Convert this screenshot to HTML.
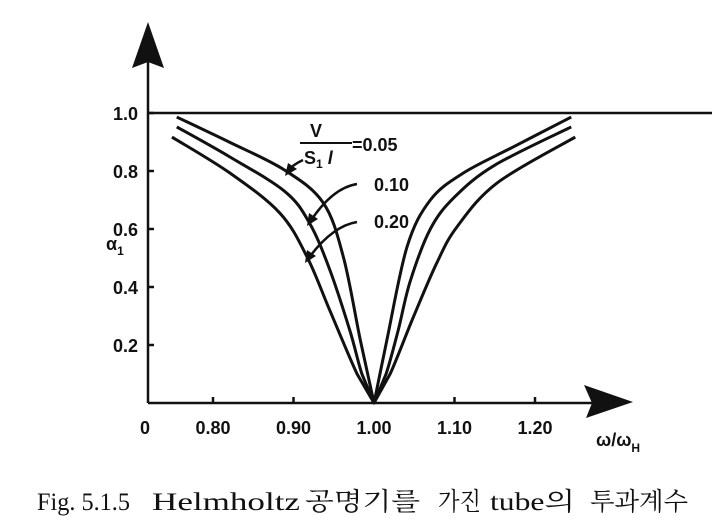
<!DOCTYPE html>
<html><head><meta charset="utf-8"><style>
body{margin:0;background:#fff;width:718px;height:532px;overflow:hidden}
svg{display:block}
.t{font-family:"Liberation Sans",Arial,sans-serif;font-weight:bold;font-size:18px;fill:#111}
.cap{font-family:"Liberation Serif","Noto Serif CJK KR","Noto Serif CJK SC",serif;font-size:25px;fill:#111}
</style></head><body>
<svg id="chart" width="718" height="532" viewBox="0 0 718 532">
<g id="axes"></g>
<g id="curves"></g>
<g id="labels">
<text class="t" x="106" y="250" font-size="21">α<tspan font-size="12" dy="5">1</tspan></text>
<text class="t" x="596" y="446" font-size="20">ω/ω<tspan font-size="12" dy="6">H</tspan></text>
<text class="t" x="310" y="137" font-size="19">V</text>
<line x1="300" y1="143" x2="352" y2="143" stroke="#111" stroke-width="2"/>
<text class="t" x="304" y="164" font-size="19">S<tspan font-size="12" dy="4">1</tspan><tspan dy="-4" font-style="italic"> l</tspan></text>
<text class="t" x="352" y="151" font-size="19">=0.05</text>
<text class="t" x="374" y="191" font-size="19">0.10</text>
<text class="t" x="374" y="228" font-size="19">0.20</text>
<path d="M303,160 Q292,165 287,172" fill="none" stroke="#111" stroke-width="2.5"/>
<path d="M285,176 L288,163 L297,169 Z" fill="#111"/>
<path d="M357,184 Q332,188 310,222" fill="none" stroke="#111" stroke-width="2.5"/>
<path d="M307,226 L309,213 L318,219 Z" fill="#111"/>
<path d="M357,222 Q332,226 308,259" fill="none" stroke="#111" stroke-width="2.5"/>
<path d="M305,263 L307,250 L316,256 Z" fill="#111"/>
<g>
<text class="cap" x="37" y="510" textLength="93" lengthAdjust="spacingAndGlyphs">Fig. 5.1.5</text>
<text class="cap" x="152" y="510" textLength="148" lengthAdjust="spacingAndGlyphs">Helmholtz</text>
<text class="cap" x="305" y="510" textLength="115" lengthAdjust="spacingAndGlyphs">공명기를</text>
<text class="cap" x="438" y="510" textLength="43" lengthAdjust="spacingAndGlyphs">가진</text>
<text class="cap" x="490" y="510" textLength="85" lengthAdjust="spacingAndGlyphs">tube의</text>
<text class="cap" x="590" y="510" textLength="98" lengthAdjust="spacingAndGlyphs">투과계수</text>
</g>
</g>
</svg>
<script>
const xTicks=[0.80,0.90,1.00,1.10,1.20];
const xTickLabels=["0.80","0.90","1.00","1.10","1.20"];
const yTicks=[0.2,0.4,0.6,0.8,1.0];
const yTickLabels=["0.2","0.4","0.6","0.8","1.0"];
const seriesNames=["0.05","0.10","0.20"];
const x005=[0.755,0.82,0.889,0.937,0.962,0.983,1.0,1.016,1.041,1.070,1.111,1.173,1.245];
const y005=[0.986,0.90,0.803,0.69,0.503,0.217,0,0.217,0.538,0.70,0.793,0.883,0.986];
const x010=[0.755,0.82,0.889,0.92,0.945,0.97,0.985,1.0,1.015,1.03,1.045,1.07,1.10,1.15,1.245];
const y010=[0.952,0.85,0.73,0.62,0.46,0.25,0.10,0,0.10,0.25,0.42,0.60,0.71,0.82,0.952];
const x020=[0.749,0.821,0.883,0.917,0.945,0.979,1.0,1.020,1.049,1.078,1.103,1.153,1.250];
const y020=[0.917,0.793,0.655,0.503,0.32,0.10,0,0.10,0.297,0.483,0.607,0.759,0.917];
const NS="http://www.w3.org/2000/svg";
const X=v=>374+(v-1.0)*805;
const Y=v=>403-v*290;
function mk(tag,attrs,parent){const e=document.createElementNS(NS,tag);for(const k in attrs)e.setAttribute(k,attrs[k]);parent.appendChild(e);return e;}
const axes=document.getElementById('axes');
let e;
e=mk('line',{x1:148,y1:403,x2:148,y2:60,stroke:'#111','stroke-width':2.5},axes);


e=mk('path',{d:'M148,22 L132,68 L148,62 L164,68 Z',fill:'#111'},axes);


e=mk('line',{x1:148,y1:403,x2:595,y2:403,stroke:'#111','stroke-width':2.5},axes);


e=mk('path',{d:'M633,402 L584,385 L592,403 L586,418 Z',fill:'#111'},axes);


e=mk('line',{x1:148,y1:Y(1.0),x2:712,y2:Y(1.0),stroke:'#111','stroke-width':2.5},axes);


e=mk('text',{x:140,y:434,class:'t'},axes);e.textContent="0";


xTicks.forEach((v,i)=>{
 const t=mk('line',{x1:X(v),y1:403,x2:X(v),y2:397,stroke:'#111','stroke-width':2.5},axes);
 
 
 const l=mk('text',{x:X(v),y:434,class:'t','text-anchor':'middle'},axes);l.textContent=xTickLabels[i];
 
 
});
yTicks.forEach((v,i)=>{
 const t=mk('line',{x1:148,y1:Y(v),x2:154,y2:Y(v),stroke:'#111','stroke-width':2.5},axes);
 
 
 const l=mk('text',{x:138,y:Y(v)+7,class:'t','text-anchor':'end'},axes);l.textContent=yTickLabels[i];
 
 
});
function smooth(pts){let d='M'+pts[0][0]+','+pts[0][1];for(let i=0;i<pts.length-1;i++){const p0=pts[i-1]||pts[i],p1=pts[i],p2=pts[i+1],p3=pts[i+2]||p2;const k=(p1[1]>400||p2[1]>400)?0:1/6;d+=' C'+(p1[0]+(p2[0]-p0[0])*k)+','+(p1[1]+(p2[1]-p0[1])*k)+' '+(p2[0]-(p3[0]-p1[0])*k)+','+(p2[1]-(p3[1]-p1[1])*k)+' '+p2[0]+','+p2[1];}return d;}
const curves=document.getElementById('curves');
[[x005,y005],[x010,y010],[x020,y020]].forEach((s,i)=>{
 const pts=s[0].map((x,j)=>[X(x),Y(s[1][j])]);
 const p=mk('path',{d:smooth(pts),fill:'none',stroke:'#111','stroke-width':3,'stroke-linejoin':'round'},curves);
 
 
});
</script>
</body></html>
